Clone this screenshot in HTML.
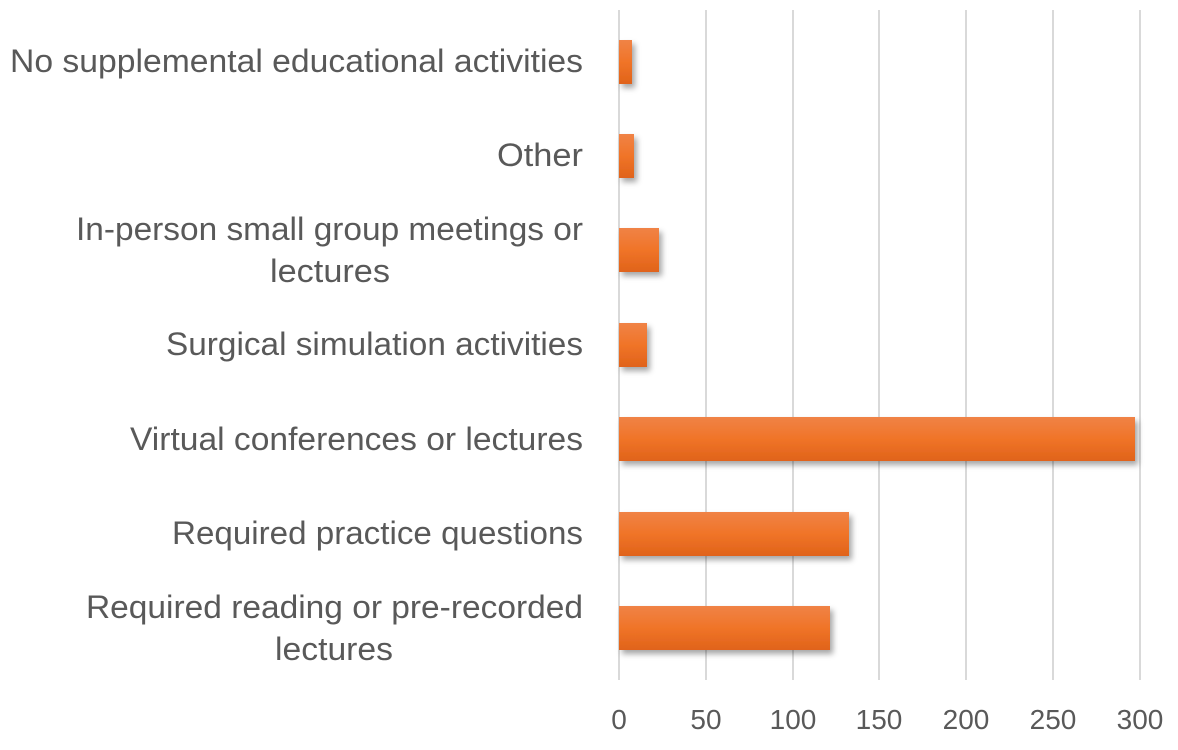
<!DOCTYPE html>
<html><head><meta charset="utf-8"><style>
body{margin:0;width:1178px;height:745px;background:#fff;overflow:hidden;font-family:"Liberation Sans",sans-serif;}
</style></head><body>
<svg width="1178" height="745" xmlns="http://www.w3.org/2000/svg">
<defs>
<linearGradient id="g" x1="0" y1="0" x2="0" y2="1">
<stop offset="0" stop-color="#f08346"/><stop offset="0.5" stop-color="#f07428"/><stop offset="1" stop-color="#e0631a"/>
</linearGradient>
<filter id="s" x="-10%" y="-30%" width="130%" height="170%"><feDropShadow dx="3" dy="4" stdDeviation="3" flood-color="#000" flood-opacity="0.35"/></filter>
</defs>
<g stroke="#d9d9d9" stroke-width="2">
<line x1="619" y1="10" x2="619" y2="680"/>
<line x1="706" y1="10" x2="706" y2="680"/>
<line x1="793" y1="10" x2="793" y2="680"/>
<line x1="879" y1="10" x2="879" y2="680"/>
<line x1="966" y1="10" x2="966" y2="680"/>
<line x1="1053" y1="10" x2="1053" y2="680"/>
<line x1="1140" y1="10" x2="1140" y2="680"/>
</g>
<g fill="url(#g)" filter="url(#s)">
<rect x="619" y="40" width="13" height="44"/>
<rect x="619" y="134" width="15" height="44"/>
<rect x="619" y="228" width="40" height="44"/>
<rect x="619" y="323" width="28" height="44"/>
<rect x="619" y="417" width="516" height="44"/>
<rect x="619" y="512" width="230" height="44"/>
<rect x="619" y="606" width="211" height="44"/>
</g>
<g fill="#595959" font-size="32" lengthAdjust="spacingAndGlyphs">
<text x="10" y="72" textLength="573" lengthAdjust="spacingAndGlyphs">No supplemental educational activities</text>
<text x="497" y="166" textLength="86" lengthAdjust="spacingAndGlyphs">Other</text>
<text x="76" y="240" textLength="507" lengthAdjust="spacingAndGlyphs">In-person small group meetings or</text>
<text x="270" y="282" textLength="120" lengthAdjust="spacingAndGlyphs">lectures</text>
<text x="166" y="355" textLength="417" lengthAdjust="spacingAndGlyphs">Surgical simulation activities</text>
<text x="130" y="450" textLength="453" lengthAdjust="spacingAndGlyphs">Virtual conferences or lectures</text>
<text x="172" y="544" textLength="411" lengthAdjust="spacingAndGlyphs">Required practice questions</text>
<text x="86" y="618" textLength="497" lengthAdjust="spacingAndGlyphs">Required reading or pre-recorded</text>
<text x="275" y="660" textLength="118" lengthAdjust="spacingAndGlyphs">lectures</text>
</g>
<g fill="#595959" font-size="28" text-anchor="middle">
<text x="619" y="729">0</text>
<text x="706" y="729">50</text>
<text x="793" y="729">100</text>
<text x="879" y="729">150</text>
<text x="966" y="729">200</text>
<text x="1053" y="729">250</text>
<text x="1140" y="729">300</text>
</g>
</svg>
</body></html>
